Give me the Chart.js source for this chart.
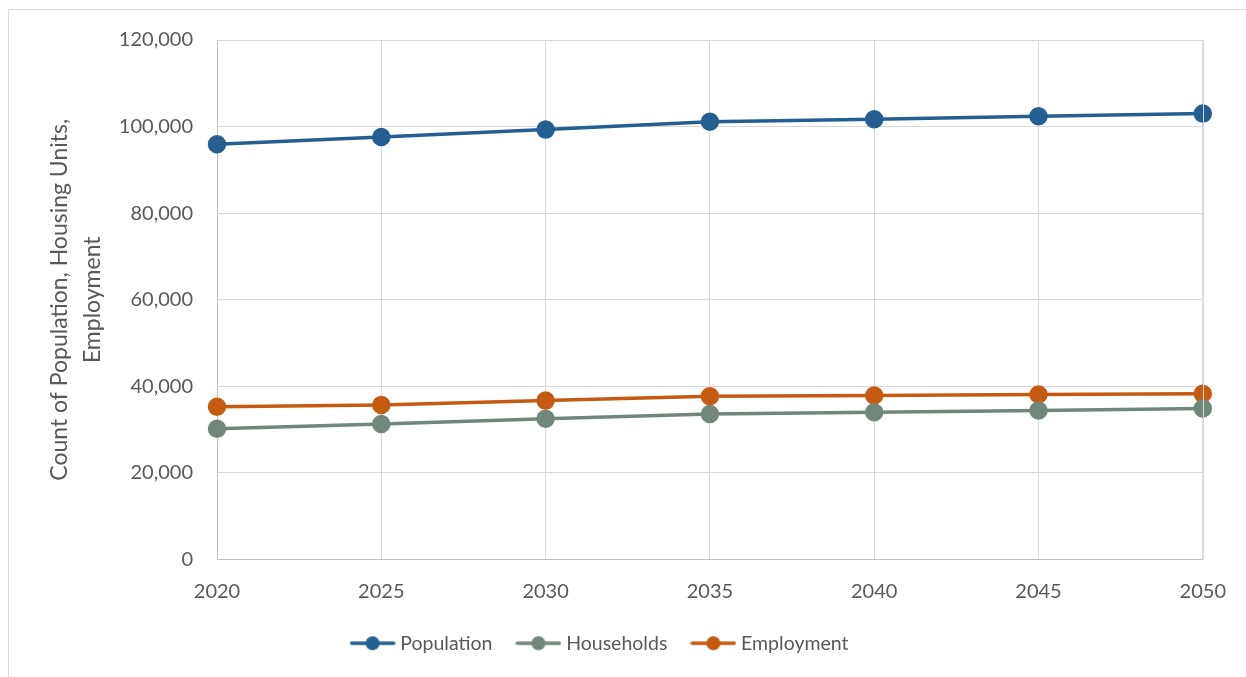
<!DOCTYPE html>
<html>
<head>
<meta charset="utf-8">
<script src="https://cdn.jsdelivr.net/npm/chart.js@4.4.1/dist/chart.umd.min.js"></script>
<style>
  html, body { margin: 0; padding: 0; background: #ffffff; overflow: hidden; }
  #wrap { position: relative; width: 1246px; height: 677px; }
  #frame { position: absolute; left: 8px; top: 9px; width: 1300px; height: 700px; border: 1px solid #d9d9d9; box-sizing: border-box; }
  #c { position: absolute; left: 0; top: 0; }
</style>
</head>
<body>
<div id="wrap">
  <div id="frame"></div>
  <canvas id="c" width="1246" height="677"></canvas>
</div>
<script>
const years = ["2020", "2025", "2030", "2035", "2040", "2045", "2050"];
const population = [95900, 97600, 99300, 101100, 101700, 102400, 103000];
const households = [30200, 31300, 32500, 33600, 34000, 34400, 34900];
const employment = [35300, 35700, 36700, 37700, 37900, 38100, 38300];
const seriesNames = ["Population", "Households", "Employment"];
const yTitle = ["Count of Population, Housing Units,", "Employment"];

const colors = ["#255e91", "#71877a", "#c55a11"];
const FONT = "Lato, 'Open Sans', sans-serif";
const TXT = "#595959";

function legendIcon(color) {
  const cv = document.createElement("canvas");
  cv.width = 46; cv.height = 16;
  const g = cv.getContext("2d");
  g.strokeStyle = color; g.lineWidth = 3.5; g.lineCap = "round";
  g.beginPath(); g.moveTo(2, 8); g.lineTo(44, 8); g.stroke();
  g.fillStyle = color;
  g.beginPath(); g.arc(23, 8, 7, 0, Math.PI * 2); g.fill();
  return cv;
}
const icons = colors.map(legendIcon);

function ds(label, data, color) {
  return {
    label, data,
    borderColor: color, backgroundColor: color,
    pointBackgroundColor: color, pointBorderColor: color,
    borderWidth: 3.5, pointRadius: 7.5, pointHoverRadius: 7.5,
    tension: 0, fill: false
  };
}

new Chart(document.getElementById("c"), {
  type: "line",
  data: {
    labels: years,
    datasets: [
      ds(seriesNames[0], population, colors[0]),
      ds(seriesNames[1], households, colors[1]),
      ds(seriesNames[2], employment, colors[2])
    ]
  },
  options: {
    responsive: false,
    animation: false,
    layout: { padding: { left: 0, top: 40, right: 43, bottom: 14 } },
    plugins: {
      tooltip: { enabled: false },
      legend: {
        position: "bottom",
        labels: {
          usePointStyle: true,
          pointStyleWidth: 36,
          padding: 28,
          color: TXT,
          font: { family: FONT, size: 19.5 },
          generateLabels(chart) {
            return chart.data.datasets.map((d, i) => ({
              text: d.label,
              fillStyle: d.borderColor,
              strokeStyle: d.borderColor,
              fontColor: TXT,
              pointStyle: icons[i],
              datasetIndex: i,
              hidden: false,
              lineWidth: 0
            }));
          }
        }
      }
    },
    scales: {
      x: {
        type: "category",
        offset: false,
        grid: { color: "#d9d9d9", lineWidth: 1, drawTicks: false },
        border: { color: "#bfbfbf", width: 1 },
        ticks: { color: TXT, font: { family: FONT, size: 20 }, padding: 20, maxRotation: 0 },
        afterFit(s) { s.height = 46; }
      },
      y: {
        min: 0, max: 120000,
        grid: { color: "#d9d9d9", lineWidth: 1, drawTicks: false },
        border: { color: "#bfbfbf", width: 1 },
        ticks: {
          stepSize: 20000, color: TXT, padding: 24,
          font: { family: FONT, size: 20 },
          callback: v => v.toLocaleString("en-US")
        },
        title: {
          display: true, text: yTitle, color: TXT,
          font: { family: FONT, size: 23, lineHeight: 1.45 },
          padding: { top: 43, bottom: 0 }
        },
        afterFit(s) { s.width = 217; }
      }
    }
  },
  plugins: [{
    id: "rightEdge",
    afterDraw(chart) {
      const a = chart.chartArea, ctx = chart.ctx;
      ctx.save();
      ctx.strokeStyle = "#d9d9d9"; ctx.lineWidth = 1;
      ctx.beginPath();
      ctx.moveTo(Math.round(a.right) + 0.5, a.top);
      ctx.lineTo(Math.round(a.right) + 0.5, a.bottom);
      ctx.stroke();
      ctx.restore();
    }
  }]
});
</script>
</body>
</html>
